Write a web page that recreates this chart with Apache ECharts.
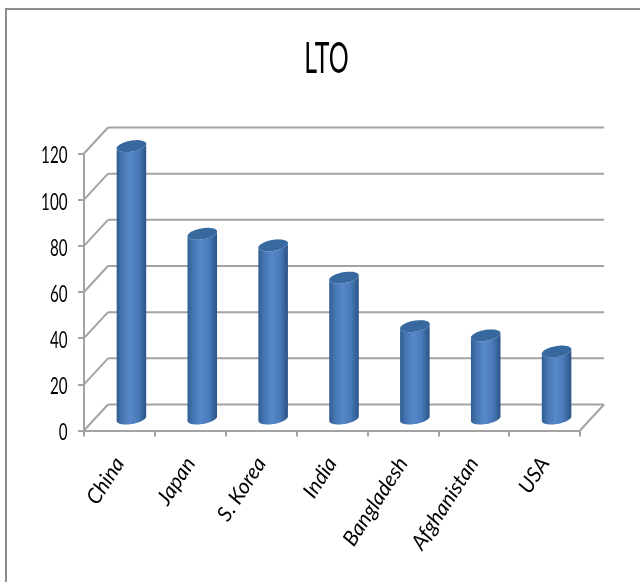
<!DOCTYPE html>
<html>
<head>
<meta charset="utf-8">
<style>html,body{margin:0;padding:0;background:#fff}#chart{width:640px;height:582px}</style>
<script src="https://cdn.jsdelivr.net/npm/echarts@6/dist/echarts.min.js"></script>
</head>
<body>
<div id="chart"></div>
<script>
// Long-term orientation scores by country
const categories = ['China', 'Japan', 'S. Korea', 'India', 'Bangladesh', 'Afghanistan', 'USA'];
const values = [118, 80, 75, 61, 40, 36, 29];
const yTicks = [0, 20, 40, 60, 80, 100, 120];

const GRID = '#a3a3a3';
const WALL = { dx: 24, dy: 26 };      // offset of the back wall from the front plane
const COLUMN = { dx: 12, dy: 12, rx: 15, ry: 5.5, tilt: -10 * Math.PI / 180 };

function ellipsePoint(cx, cy, t) {
  const { rx, ry, tilt } = COLUMN;
  return [
    cx + rx * Math.cos(t) * Math.cos(tilt) - ry * Math.sin(t) * Math.sin(tilt),
    cy + rx * Math.cos(t) * Math.sin(tilt) + ry * Math.sin(t) * Math.cos(tilt)
  ];
}

// Floor, back wall rules, diagonal connectors and condensed value labels
function renderFrame(params, api) {
  const cs = params.coordSys;
  const v = api.value(1);
  const y = api.coord([0, v])[1];
  const line = (x1, y1, x2, y2) => ({
    type: 'line',
    shape: { x1, y1, x2, y2 },
    style: { stroke: GRID, lineWidth: 2 }
  });
  const children = [
    line(cs.x, y, cs.x + WALL.dx, y - WALL.dy),
    line(cs.x + WALL.dx, y - WALL.dy, cs.x + cs.width + WALL.dx, y - WALL.dy),
    {
      type: 'text',
      x: cs.x - 16.5,
      y: y + 2.5,
      scaleX: 0.66,
      style: {
        text: String(v),
        fill: '#000',
        font: '23px Lato',
        align: 'right',
        verticalAlign: 'middle'
      }
    }
  ];
  if (v === 0) {
    children.push(line(cs.x + cs.width, y, cs.x + cs.width + WALL.dx, y - WALL.dy));
  }
  return { type: 'group', children };
}

// One cylinder: shaded body plus a darker top cap
function renderColumn(params, api) {
  const top = api.coord([api.value(0), api.value(1)]);
  const base = api.coord([api.value(0), 0]);
  const cx = top[0] + COLUMN.dx;
  const topY = top[1] - COLUMN.dy;
  const baseY = base[1] - COLUMN.dy;
  const body = [];
  for (let i = 0; i <= 36; i++) body.push(ellipsePoint(cx, baseY, i / 36 * Math.PI));
  for (let i = 0; i <= 36; i++) body.push(ellipsePoint(cx, topY, Math.PI - i / 36 * Math.PI));
  const cap = [];
  for (let i = 0; i < 72; i++) cap.push(ellipsePoint(cx, topY, i / 72 * 2 * Math.PI));
  return {
    type: 'group',
    children: [
      {
        type: 'polygon',
        shape: { points: body },
        style: {
          fill: {
            type: 'linear', x: 0, y: 0, x2: 1, y2: 0,
            colorStops: [
              { offset: 0, color: '#2f5d92' },
              { offset: 0.18, color: '#4475b0' },
              { offset: 0.45, color: '#5688cb' },
              { offset: 0.72, color: '#4a7cbb' },
              { offset: 0.92, color: '#335f95' },
              { offset: 1, color: '#2b5385' }
            ]
          }
        }
      },
      { type: 'polygon', shape: { points: cap }, style: { fill: '#37699f' } }
    ]
  };
}

const chart = echarts.init(document.getElementById('chart'), null, { renderer: 'canvas' });
chart.setOption({
  animation: false,
  backgroundColor: '#ffffff',
  grid: { left: 84, top: 153.5, width: 496, height: 277, containLabel: false },
  xAxis: {
    type: 'category',
    data: categories,
    axisLine: { lineStyle: { color: GRID, width: 2 } },
    axisTick: { show: true, length: 6, lineStyle: { color: GRID, width: 2 } },
    axisLabel: {
      interval: 0,
      rotate: 57,
      margin: 29,
      color: '#000',
      fontFamily: 'Lato',
      fontStyle: 'italic',
      fontSize: 21
    }
  },
  yAxis: {
    type: 'value',
    min: 0,
    max: 120,
    interval: 20,
    axisLine: { show: true, lineStyle: { color: GRID, width: 2 } },
    axisTick: { show: true, length: 6, lineStyle: { color: GRID, width: 2 } },
    splitLine: { show: false },
    axisLabel: { show: false }
  },
  series: [
    {
      type: 'custom',
      name: 'frame',
      silent: true,
      z: 1,
      renderItem: renderFrame,
      data: yTicks.map(v => [0, v]),
      encode: { x: 0, y: 1 }
    },
    {
      type: 'custom',
      name: 'LTO',
      z: 3,
      renderItem: renderColumn,
      data: values.map((v, i) => [i, v]),
      encode: { x: 0, y: 1 }
    }
  ],
  graphic: [
    {
      type: 'polyline',
      silent: true,
      shape: { points: [[6, 582], [6, 9], [640, 9]] },
      style: { stroke: '#8c8c8c', lineWidth: 2, fill: null }
    },
    {
      type: 'text',
      silent: true,
      x: 326.5,
      y: 59,
      scaleX: 0.58,
      style: {
        text: 'LTO',
        fill: '#000',
        font: '43px Lato',
        align: 'center',
        verticalAlign: 'middle'
      }
    }
  ]
});
</script>
</body>
</html>
